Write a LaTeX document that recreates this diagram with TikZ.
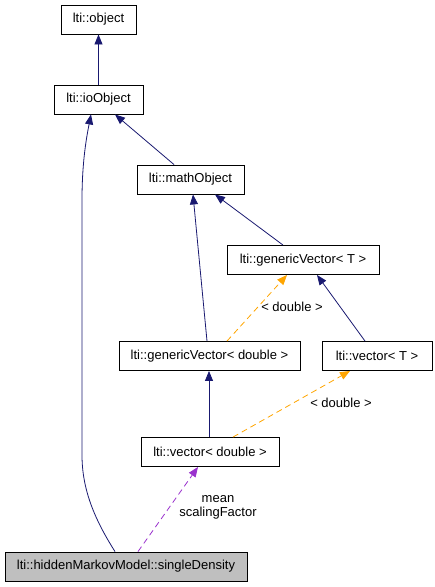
\documentclass[tikz,border=0pt]{standalone}
\usepackage{fontspec}
\setmainfont{Liberation Sans}
\usetikzlibrary{arrows.meta}
\definecolor{navyedge}{HTML}{191970}
\definecolor{orangeedge}{HTML}{FFA500}
\definecolor{purpleedge}{HTML}{9A32CD}
\definecolor{greyfill}{HTML}{BFBFBF}
\begin{document}
\begin{tikzpicture}[x=1pt,y=-1pt,
  every node/.style={font=\fontsize{13}{15}\selectfont},
  cls/.style={draw=black, line width=0.9pt, fill=white, inner sep=0pt, minimum height=29pt},
  inh/.style={navyedge, line width=0.8pt, -{Triangle[length=10pt,width=8pt]}},
  tmpl/.style={orangeedge, line width=0.8pt, dash pattern=on 6pt off 4pt, -{Triangle[length=10pt,width=8pt]}},
  use/.style={purpleedge, line width=0.8pt, dash pattern=on 6pt off 4pt, -{Triangle[length=10pt,width=8pt]}},
  lbl/.style={inner sep=0pt, align=center}]
\useasboundingbox (0,0) rectangle (435,587);
\node[cls, minimum width=75pt] (obj) at (98.5,19.5) {lti::object};
\node[cls, minimum width=89pt] (io) at (98.5,99.5) {lti::ioObject};
\node[cls, minimum width=107pt] (math) at (190.5,179.5) {lti::mathObject};
\node[cls, minimum width=152pt] (gvT) at (303,260) {lti::genericVector< T >};
\node[cls, minimum width=181pt] (gvD) at (209.5,356) {lti::genericVector< double >};
\node[cls, minimum width=110pt] (vT) at (377,356) {lti::vector< T >};
\node[cls, minimum width=138pt] (vD) at (210,452) {lti::vector< double >};
\node[cls, minimum width=242pt, fill=greyfill] (sD) at (126,566.5) {lti::hiddenMarkovModel::singleDensity};

\draw[inh] (io.north) -- (obj.south);
\draw[inh] ([xshift=-16.5pt]math.north) -- ([xshift=16.5pt]io.south);
\draw[inh] ([xshift=-11pt]sD.north) .. controls (95,520) and (82,490) .. (82,455) -- (82,200) .. controls (82,160) and (87,135) .. ([xshift=-7.5pt]io.south);
\draw[inh] ([xshift=-2.5pt]gvD.north) -- ([xshift=2.5pt]math.south);
\draw[inh] ([xshift=-20pt]gvT.north) -- ([xshift=24.5pt]math.south);
\draw[inh] ([xshift=-12pt]vT.north) -- ([xshift=14pt]gvT.south);
\draw[tmpl] ([xshift=17.5pt]gvD.north) -- ([xshift=-16pt]gvT.south);
\draw[tmpl] ([xshift=23pt]vD.north) -- ([xshift=-27pt]vT.south);
\draw[inh] ([xshift=-1pt]vD.north) -- ([xshift=-0.5pt]gvD.south);
\draw[use] ([xshift=12pt]sD.north) -- ([xshift=-12pt]vD.south);

\node[lbl] (l1) at (292,307) {< double >};
\node[lbl] (l2) at (341,403) {< double >};
\node[lbl] (l3) at (218,507.5) {mean\\[-1pt]scalingFactor};
\end{tikzpicture}
\end{document}
